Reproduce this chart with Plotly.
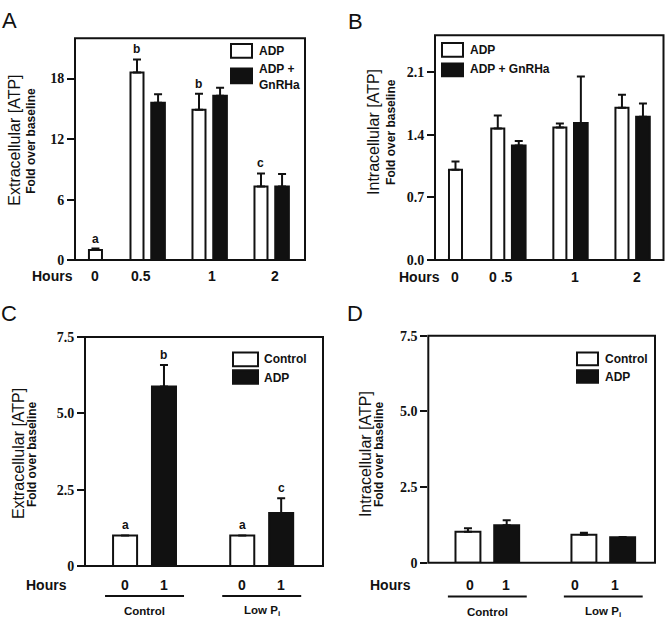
import plotly.graph_objects as go

# ---------------- data ----------------
A_hours = ["0", "0.5", "1", "2"]
A_adp = [1.0, 18.6, 14.9, 7.3]
A_adp_err = [0.15, 1.3, 1.6, 1.3]
A_gnrha = [None, 15.6, 16.3, 7.3]
A_gnrha_err = [None, 0.85, 0.8, 1.25]
A_letters = ["a", "b", "b", "c"]

B_hours = ["0", "0 .5", "1", "2"]
B_adp = [1.01, 1.47, 1.48, 1.70]
B_adp_err = [0.09, 0.145, 0.045, 0.145]
B_gnrha = [None, 1.28, 1.53, 1.60]
B_gnrha_err = [None, 0.05, 0.52, 0.15]

CD_groups = ["Control", "Low P<sub>i</sub>"]
CD_hours = ["0", "1"]
C_control = [1.0, 1.0]
C_control_err = [0.0, 0.0]
C_adp = [5.88, 1.74]
C_adp_err = [0.7, 0.48]
C_letters_control = ["a", "a"]
C_letters_adp = ["b", "c"]

D_control = [1.02, 0.92]
D_control_err = [0.12, 0.07]
D_adp = [1.235, 0.84]
D_adp_err = [0.165, 0.01]

# ---------------- layout helpers ----------------
W, H = 665, 629
def px(x): return x / W
def py(y): return 1 - y / H

ARIAL = "Arial, 'Liberation Sans', sans-serif"
SERIF = "'Times New Roman', 'Liberation Serif', serif"
BLACK = "#111111"

fig = go.Figure()
annotations = []
shapes = []

def add_bars(x, y, err, fill, xa, ya, width):
    fig.add_trace(go.Bar(
        x=x, y=y, width=width, xaxis=xa, yaxis=ya,
        marker=dict(color=fill, line=dict(color=BLACK, width=2)),
        error_y=dict(type="data", symmetric=False, array=err,
                     arrayminus=[0 for _ in err], color=BLACK,
                     thickness=2, width=4),
        showlegend=False, hoverinfo="skip"))

def letters(xs, ys, errs, labels, xref, yref):
    for x, y, e, t in zip(xs, ys, errs, labels):
        annotations.append(dict(x=x, y=y + (e or 0), xref=xref, yref=yref,
                                text="<b>%s</b>" % t, showarrow=False,
                                yanchor="bottom", yshift=1,
                                font=dict(family=ARIAL, size=12, color=BLACK)))

def text(x, y, t, size=12, xanchor="center", xref="paper", bold=True, family=ARIAL, angle=0):
    annotations.append(dict(x=x, y=y, xref=xref, yref="paper",
                            text=("<b>%s</b>" % t) if bold else t,
                            showarrow=False, xanchor=xanchor, yanchor="middle",
                            align="left" if xanchor == "left" else "center",
                            textangle=angle,
                            font=dict(family=family, size=size, color=BLACK)))

def box(x0, x1, y0, y1, fill):
    shapes.append(dict(type="rect", xref="paper", yref="paper",
                       x0=px(x0), x1=px(x1), y0=py(y1), y1=py(y0),
                       fillcolor=fill, line=dict(color=BLACK, width=2)))

def frame_box(xa, ya):
    shapes.append(dict(type="rect", xref=xa + " domain", yref=ya + " domain",
                       x0=0, x1=1, y0=0, y1=1, layer="above",
                       line=dict(color=BLACK, width=2)))

# ---------------- Panel A ----------------
A_centers = [-0.84, 0, 1, 2]
off = 0.17
A_wx = [c if i == 0 else c - off for i, c in enumerate(A_centers)]
A_bx = [c + off for c in A_centers]
add_bars(A_wx, A_adp, A_adp_err, "white", "x", "y", 0.21)
add_bars(A_bx, A_gnrha, A_gnrha_err, BLACK, "x", "y", 0.22)
letters(A_wx, A_adp, A_adp_err, A_letters, "x", "y")
for xpos, t in zip([-0.84, -0.11, 1.04, 2.06], A_hours):
    text(xpos, py(276), t, size=14, xref="x")
text(px(52), py(276), "Hours", size=14)
box(231, 252, 38, 52, "white")
box(231, 252, 63, 78, BLACK)
text(px(257), py(45), "ADP", xanchor="left")
text(px(257), py(72), "ADP +<br>GnRHa", xanchor="left")
frame_box("x", "y")

# ---------------- Panel B ----------------
B_centers = [-0.85, 0, 1, 2]
offb = 0.169
B_wx = [c if i == 0 else c - offb for i, c in enumerate(B_centers)]
B_bx = [c + offb for c in B_centers]
add_bars(B_wx, B_adp, B_adp_err, "white", "x2", "y2", 0.21)
add_bars(B_bx, B_gnrha, B_gnrha_err, BLACK, "x2", "y2", 0.22)
for xpos, t in zip([-0.86, -0.12, 1.07, 2.08], B_hours):
    text(xpos, py(277), t, size=14, xref="x2")
text(px(419), py(277), "Hours", size=14)
box(442, 463, 37, 51, "white")
box(442, 463, 58, 71, BLACK)
text(px(468), py(44), "ADP", xanchor="left")
text(px(468), py(64), "ADP + GnRHa", xanchor="left")
frame_box("x2", "y2")

# ---------------- Panel C ----------------
CD_centers = [0, 1]
offc = 0.166
C_wx = [c - offc for c in CD_centers]
C_bx = [c + offc for c in CD_centers]
add_bars(C_wx, C_control, C_control_err, "white", "x3", "y3", 0.205)
add_bars(C_bx, C_adp, C_adp_err, BLACK, "x3", "y3", 0.205)
letters(C_wx, C_control, C_control_err, C_letters_control, "x3", "y3")
letters(C_bx, C_adp, C_adp_err, C_letters_adp, "x3", "y3")
for c in range(2):
    text(C_wx[c], py(591.7), CD_hours[0], size=14, xref="x3")
    text(C_bx[c], py(591.7), CD_hours[1], size=14, xref="x3")
    shapes.append(dict(type="line", xref="x3", yref="paper",
                       x0=CD_centers[c] - 0.337, x1=CD_centers[c] + 0.337,
                       y0=py(603.3), y1=py(603.3), line=dict(color=BLACK, width=2)))
    text(CD_centers[c], py(619), CD_groups[c], size=11.5, xref="x3")
text(px(46), py(591.7), "Hours", size=14)
box(233, 258, 354, 368, "white")
box(233, 258, 372, 386, BLACK)
text(px(262), py(361), "Control", xanchor="left")
text(px(262), py(380), "ADP", xanchor="left")
frame_box("x3", "y3")

# ---------------- Panel D ----------------
offd = 0.167
D_wx = [c - offd for c in CD_centers]
D_bx = [c + offd for c in CD_centers]
add_bars(D_wx, D_control, D_control_err, "white", "x4", "y4", 0.215)
add_bars(D_bx, D_adp, D_adp_err, BLACK, "x4", "y4", 0.215)
D_lab_w = [-0.15, 0.76]
D_lab_b = [0.16, 1.10]
for c in range(2):
    text(D_lab_w[c], py(591.7), CD_hours[0], size=14, xref="x4")
    text(D_lab_b[c], py(591.7), CD_hours[1], size=14, xref="x4")
    shapes.append(dict(type="line", xref="x4", yref="paper",
                       x0=CD_centers[c] - 0.34, x1=CD_centers[c] + 0.34,
                       y0=py(604), y1=py(604), line=dict(color=BLACK, width=2)))
    text(CD_centers[c], py(620), CD_groups[c], size=11.5, xref="x4")
text(px(390), py(591.7), "Hours", size=14)
box(577, 598, 354, 367, "white")
box(577, 598, 372, 385, BLACK)
text(px(603), py(361), "Control", xanchor="left")
text(px(603), py(379), "ADP", xanchor="left")
frame_box("x4", "y4")

# ---------------- y titles & panel letters ----------------
for (xb, xs, yc, big) in [(15, 31, 137, "Extracellular [ATP]"),
                          (374, 391, 128, "Intracellular [ATP]"),
                          (18, 32, 458, "Extracellular [ATP]"),
                          (365, 379, 458, "Intracellular [ATP]")]:
    text(px(xb), py(yc), big, size=16, bold=False, angle=-90)
    text(px(xs), py(yc), "Fold over baseline", size=12, angle=-90)

for (x, y, t) in [(9, 13.5, "A"), (355, 14.5, "B"), (9, 313.5, "C"), (355, 313.5, "D")]:
    text(px(x), py(y), t, size=22, bold=False)

# ---------------- axes ----------------
def xax(domain, rng, anchor):
    return dict(domain=domain, range=rng, showticklabels=False, ticks="",
                showline=False, showgrid=False, zeroline=False,
                anchor=anchor, fixedrange=True)
def yax(domain, rng, tv, tt, anchor):
    return dict(domain=domain, range=rng, tickvals=tv, ticktext=tt,
                ticks="outside", ticklen=7, tickwidth=2, tickcolor=BLACK,
                showline=False, showgrid=False, zeroline=False,
                tickfont=dict(family=SERIF, size=14, color=BLACK, weight="bold"),
                anchor=anchor, fixedrange=True)

fig.update_layout(
    width=W, height=H, margin=dict(l=0, r=0, t=0, b=0),
    paper_bgcolor="white", plot_bgcolor="white", barmode="overlay",
    xaxis=xax([px(75), px(305)], [-1.17, 2.54], "y"),
    yaxis=yax([py(259.3), py(32)], [0, 22], [0, 6, 12, 18], ["0", "6", "12", "18"], "x"),
    xaxis2=xax([px(435), px(663.5)], [-1.18, 2.50], "y2"),
    yaxis2=yax([py(259.3), py(29)], [0, 2.51], [0, 0.7, 1.4, 2.1], ["0.0", "0.7", "1.4", "2.1"], "x2"),
    xaxis3=xax([px(85), px(323)], [-0.508, 1.523], "y3"),
    yaxis3=yax([py(572.7), py(338)], [0, 7.5], [0, 2.5, 5, 7.5], ["0", "2.5", "5.0", "7.5"], "x3"),
    xaxis4=xax([px(428.3), px(655)], [-0.509, 1.446], "y4"),
    yaxis4=yax([py(569.3), py(336.7)], [0, 7.5], [0, 2.5, 5, 7.5], ["0", "2.5", "5.0", "7.5"], "x4"),
    annotations=annotations, shapes=shapes,
)
fig.write_html("out.html", config={"displayModeBar": False},
               post_script="document.body.style.margin='0';document.body.style.padding='0';")
